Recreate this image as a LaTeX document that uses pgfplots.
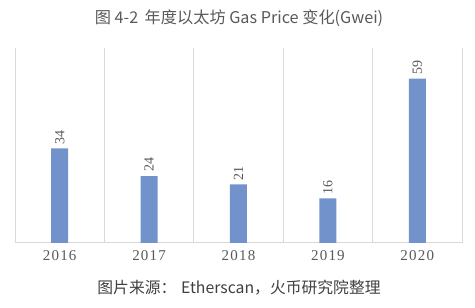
\documentclass[border=0pt]{standalone}
\usepackage{pgfplots}
\pgfplotsset{compat=1.18}
\usepackage{fontspec}
\setmainfont{Liberation Serif}
\newfontfamily\cjk{Noto Sans CJK SC}
\newfontfamily\tickfont{Liberation Serif}[LetterSpace=8]
\definecolor{barblue}{RGB}{114,146,204}
\definecolor{gridgray}{RGB}{217,217,217}
\definecolor{txtgray}{RGB}{89,89,89}
\definecolor{captgray}{RGB}{64,64,64}
\begin{document}
\begin{tikzpicture}[x=1pt,y=1pt]
\path (0,0) rectangle (475,308);
\node[font=\cjk\fontsize{16.2}{18}\selectfont, text=txtgray] at (239,290) {图 4-2\hspace{0.4em}年度以太坊 Gas Price 变化(Gwei)};
\node[font=\cjk\fontsize{15.8}{18}\selectfont, text=captgray] at (239,20) {图片来源：\hspace{0.3em}Etherscan，火币研究院整理};
\begin{axis}[
  at={(15pt,65pt)}, anchor=south west,
  scale only axis, width=447pt, height=195pt,
  xmin=-0.5, xmax=4.5, ymin=0, ymax=70,
  axis x line*=bottom, axis y line=none,
  x axis line style={gridgray, line width=1pt, -},
  xtick={0,1,2,3,4},
  xticklabels={2016,2017,2018,2019,2020},
  x tick label style={font=\tickfont\fontsize{15}{16}\selectfont, text=txtgray, yshift=-4pt},
  major tick length=0pt,
  minor xtick={-0.5,0.5,1.5,2.5,3.5,4.5},
  xminorgrids, minor grid style={gridgray, line width=0.8pt},
  minor tick length=0pt,
  ytick=\empty,
  clip=false,
]
\addplot[ybar, bar width=17pt, fill=barblue, draw=none,
  nodes near coords, point meta=explicit symbolic,
  every node near coord/.append style={rotate=90, anchor=west, font=\fontsize{14}{14}\selectfont, text=txtgray, xshift=0pt, inner sep=4pt}]
  coordinates {(0,34)[34] (1,24)[24] (2,21)[21] (3,16)[16] (4,59)[59]};
\end{axis}
\end{tikzpicture}
\end{document}
